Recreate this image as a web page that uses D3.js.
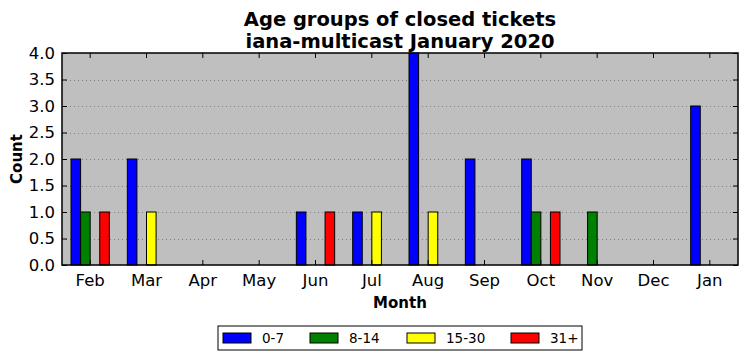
<!DOCTYPE html>
<html>
<head>
<meta charset="utf-8">
<script src="https://cdn.jsdelivr.net/npm/d3@7"></script>
<style>
  body { margin: 0; background: #fff; }
  svg { font-family: "DejaVu Sans", sans-serif; }
</style>
</head>
<body>
<div id="viz"></div>
<script>
// chart data
var months = ["Feb", "Mar", "Apr", "May", "Jun", "Jul", "Aug", "Sep", "Oct", "Nov", "Dec", "Jan"];
var groups = ["0-7", "8-14", "15-30", "31+"];
var colors = ["#0000ff", "#008000", "#ffff00", "#ff0000"];
var age0_7   = [2, 2, 0, 0, 1, 1, 4, 2, 2, 0, 0, 3];
var age8_14  = [1, 0, 0, 0, 0, 0, 0, 0, 1, 1, 0, 0];
var age15_30 = [0, 1, 0, 0, 0, 1, 1, 0, 0, 0, 0, 0];
var age31    = [1, 0, 0, 0, 1, 0, 0, 0, 1, 0, 0, 0];
var yTicks = [0, 0.5, 1, 1.5, 2, 2.5, 3, 3.5, 4];

var series = [age0_7, age8_14, age15_30, age31];

var W = 747, H = 361;
var plot = {left: 62, right: 738, top: 53, bottom: 265};

var svg = d3.select("#viz").append("svg")
  .attr("width", W)
  .attr("height", H);

var x = d3.scaleBand()
  .domain(months)
  .range([plot.left, plot.right])
  .padding(0);

var barW = x.bandwidth() * 0.17;

var sub = d3.scaleBand()
  .domain(groups)
  .range([-2 * barW, 2 * barW]);

var y = d3.scaleLinear()
  .domain([0, 4])
  .range([plot.bottom, plot.top]);

// plot background
svg.append("rect")
  .attr("x", plot.left).attr("y", plot.top)
  .attr("width", plot.right - plot.left).attr("height", plot.bottom - plot.top)
  .attr("fill", "#bfbfbf");

// dotted grid
svg.append("g").selectAll("line")
  .data(yTicks.slice(1, -1))
  .enter().append("line")
  .attr("x1", plot.left).attr("x2", plot.right)
  .attr("y1", function(d){ return Math.round(y(d)) + 0.5 })
  .attr("y2", function(d){ return Math.round(y(d)) + 0.5 })
  .attr("stroke", "#808080")
  .attr("stroke-width", 1)
  .attr("stroke-dasharray", "1,3");

// bars
var rows = [];
months.forEach(function(m, i){
  groups.forEach(function(g, j){
    rows.push({month: m, group: g, value: series[j][i], color: colors[j]});
  });
});

svg.append("g").selectAll("rect")
  .data(rows.filter(function(d){ return d.value > 0 }))
  .enter().append("rect")
  .attr("x", function(d){ return x(d.month) + x.bandwidth() / 2 + sub(d.group) })
  .attr("y", function(d){ return y(d.value) })
  .attr("width", sub.bandwidth())
  .attr("height", function(d){ return y(0) - y(d.value) })
  .attr("fill", function(d){ return d.color })
  .attr("stroke", "#000")
  .attr("stroke-width", 1);

// axes: ticks inside, on all four sides
var fontSize = 16.5;

var axL = svg.append("g")
  .attr("transform", "translate(" + plot.left + ",0)")
  .call(d3.axisLeft(y).tickValues(yTicks).tickFormat(d3.format(".1f")).tickSizeInner(-5).tickSizeOuter(0).tickPadding(7));
var axR = svg.append("g")
  .attr("transform", "translate(" + plot.right + ",0)")
  .call(d3.axisRight(y).tickValues(yTicks).tickFormat("").tickSizeInner(-5).tickSizeOuter(0));
var axB = svg.append("g")
  .attr("transform", "translate(0," + plot.bottom + ")")
  .call(d3.axisBottom(x).tickSizeInner(-5).tickSizeOuter(0).tickPadding(9));
var axT = svg.append("g")
  .attr("transform", "translate(0," + plot.top + ")")
  .call(d3.axisTop(x).tickFormat("").tickSizeInner(-5).tickSizeOuter(0));

[axL, axR, axB, axT].forEach(function(a){
  a.select(".domain").remove();
  a.selectAll("line").attr("stroke", "#000");
  a.selectAll("text")
    .attr("fill", "#000")
    .style("font-family", "DejaVu Sans, sans-serif")
    .style("font-size", fontSize + "px");
});

// frame
svg.append("rect")
  .attr("x", plot.left).attr("y", plot.top)
  .attr("width", plot.right - plot.left).attr("height", plot.bottom - plot.top)
  .attr("fill", "none")
  .attr("stroke", "#000")
  .attr("stroke-width", 1.5);

// title
var cx = (plot.left + plot.right) / 2;
svg.append("text")
  .attr("x", cx).attr("y", 26)
  .attr("text-anchor", "middle")
  .style("font-size", "19.5px").style("font-weight", "bold")
  .text("Age groups of closed tickets");
svg.append("text")
  .attr("x", cx).attr("y", 48)
  .attr("text-anchor", "middle")
  .style("font-size", "19.5px").style("font-weight", "bold")
  .text("iana-multicast January 2020");

// axis labels
svg.append("text")
  .attr("x", cx).attr("y", 308)
  .attr("text-anchor", "middle")
  .style("font-size", "15px").style("font-weight", "bold")
  .text("Month");
svg.append("text")
  .attr("transform", "translate(22," + ((plot.top + plot.bottom) / 2) + ") rotate(-90)")
  .attr("text-anchor", "middle")
  .style("font-size", "15px").style("font-weight", "bold")
  .text("Count");

// legend
var lg = svg.append("g").attr("transform", "translate(218,326)");
lg.append("rect")
  .attr("x", 0).attr("y", 0).attr("width", 364).attr("height", 24)
  .attr("fill", "#fff").attr("stroke", "#000").attr("stroke-width", 1);
var legX = [5, 92, 189, 293];
var item = lg.selectAll("g.item")
  .data(groups)
  .enter().append("g")
  .attr("transform", function(d, i){ return "translate(" + legX[i] + ",0)" });
item.append("rect")
  .attr("x", 0).attr("y", 7).attr("width", 28).attr("height", 10)
  .attr("fill", function(d, i){ return colors[i] })
  .attr("stroke", "#000").attr("stroke-width", 1);
item.append("text")
  .attr("x", 39).attr("y", 17)
  .style("font-size", "13.5px")
  .text(function(d){ return d });
</script>
</body>
</html>
